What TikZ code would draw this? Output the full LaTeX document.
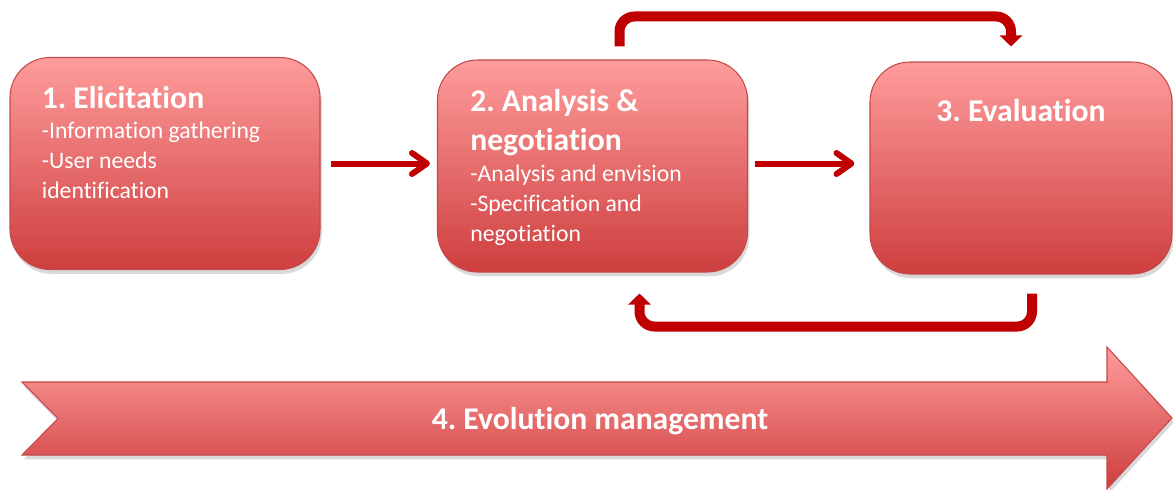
\documentclass[tikz,border=0pt]{standalone}
\usepackage{fontspec}
\setmainfont[Ligatures=NoCommon]{Carlito}
\usetikzlibrary{positioning,arrows.meta,shadows}
\definecolor{boxtop}{RGB}{255,156,156}
\definecolor{boxbot}{RGB}{206,62,62}
\definecolor{boxedge}{RGB}{196,74,74}
\definecolor{flowred}{RGB}{192,0,0}
\newcommand\stagehead{\fontsize{18}{21.6}\selectfont\bfseries}
\frenchspacing
\begin{document}
\begin{tikzpicture}[
    stage/.style={draw=boxedge,line width=0.6pt,rounded corners=0.8cm,top color=boxtop,bottom color=boxbot,
        minimum width=6.2cm,minimum height=4.24cm,drop shadow={opacity=0.3,shadow xshift=1pt,shadow yshift=-2.5pt}},
    stagetext/.style={text=white,align=left,inner sep=0pt,font=\fontsize{13.5}{17}\selectfont},
    nextarrow/.style={flowred,line width=0.12cm,-{Straight Barb[length=0.3cm,width=0.42cm,round]}},
    loopback/.style={flowred,line width=0.2cm,rounded corners=0.3cm,-{Triangle[length=0.22cm,width=0.44cm]}}
]
\useasboundingbox (0,0) rectangle (23.46,-9.78);

\node[stage] (elic) at (3.30,-3.27) {};
\node[stage] (anal) at (11.85,-3.32) {};
\node[stage,minimum width=6.04cm] (eval) at (20.42,-3.36) {};

\node[stagetext,below right=0.58cm and 0.64cm of elic.north west] (elictxt) {{\stagehead 1. Elicitation}\\[0pt] -Information gathering\\ -User needs\\ identification};
\node[stagetext,below right=0.58cm and 0.66cm of anal.north west] (analtxt) {{\stagehead 2. Analysis \&}\\[5.7pt] {\stagehead negotiation}\\[0.6pt] -Analysis and envision\\ -Specification and\\ negotiation};
\node[stagetext,below=0.74cm of eval.north] (evaltxt) {\stagehead 3. Evaluation};

\draw[nextarrow] ([xshift=0.2cm]elic.east) -- ([xshift=-0.14cm]anal.west |- elic.east);
\draw[nextarrow] ([xshift=0.14cm]anal.east |- elic.east) -- ([xshift=-0.3cm]eval.west |- elic.east);
\draw[loopback] ([xshift=0.54cm,yshift=0.26cm]anal.north) -- ++(0,0.6) -| ([xshift=-0.2cm,yshift=0.3cm]eval.north);
\draw[loopback] ([xshift=0.22cm,yshift=-0.38cm]eval.south) -- ++(0,-0.66) -| ([xshift=0.94cm,yshift=-0.42cm]anal.south);

\path[draw=boxedge,line width=0.6pt,top color=boxtop,bottom color=boxbot,drop shadow={opacity=0.3,shadow xshift=1pt,shadow yshift=-2.5pt}]
    (0.44,-7.64) -- (22.14,-7.64) -- (22.14,-6.94) -- (23.44,-8.36) -- (22.14,-9.78) -- (22.14,-9.10) -- (0.44,-9.10) -- (1.16,-8.37) -- cycle;
\node[stagetext] (evo) at (12.0,-8.42) {\stagehead 4. Evolution management};
\end{tikzpicture}
\end{document}
